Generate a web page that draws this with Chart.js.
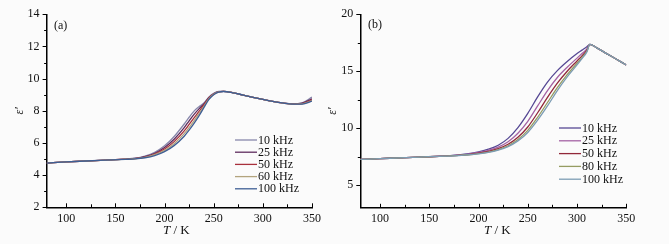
<!DOCTYPE html>
<html>
<head>
<meta charset="utf-8">
<script src="https://cdn.jsdelivr.net/npm/chart.js@4/dist/chart.umd.min.js"></script>
<style>
  html, body { margin: 0; padding: 0; background: #fbfbfb; }
  #wrap { position: relative; width: 669px; height: 244px; overflow: hidden; }
  #chartA { position: absolute; left: 0; top: 0; }
  #chartB { position: absolute; left: 325px; top: 0; }
</style>
</head>
<body>
<div id="wrap">
  <canvas id="chartA" width="330" height="244"></canvas>
  <canvas id="chartB" width="344" height="244"></canvas>
</div>
<script>
// ---- panel (a) ----
var tempA = [80, 100, 120, 140, 160, 170, 180, 190, 200, 210, 220, 225, 230, 235, 240, 245, 250, 255, 260, 270, 280, 290, 300, 310, 320, 330, 340, 350];
var epsA10  = [4.75, 4.82, 4.88, 4.93, 5.00, 5.05, 5.18, 5.42, 5.82, 6.42, 7.18, 7.60, 7.98, 8.25, 8.48, 8.85, 9.08, 9.20, 9.21, 9.12, 8.98, 8.84, 8.71, 8.59, 8.49, 8.43, 8.50, 8.85];
var epsA25  = [4.75, 4.82, 4.88, 4.93, 5.00, 5.04, 5.15, 5.36, 5.72, 6.25, 6.95, 7.38, 7.78, 8.12, 8.42, 8.82, 9.06, 9.19, 9.21, 9.12, 8.98, 8.84, 8.71, 8.59, 8.49, 8.43, 8.47, 8.75];
var epsA50  = [4.75, 4.82, 4.88, 4.93, 4.99, 5.03, 5.12, 5.31, 5.62, 6.10, 6.75, 7.15, 7.56, 7.96, 8.36, 8.78, 9.04, 9.18, 9.21, 9.12, 8.98, 8.84, 8.71, 8.59, 8.49, 8.42, 8.45, 8.68];
var epsA60  = [4.75, 4.82, 4.88, 4.93, 4.99, 5.02, 5.10, 5.27, 5.54, 5.97, 6.58, 6.96, 7.38, 7.82, 8.28, 8.74, 9.02, 9.17, 9.21, 9.12, 8.98, 8.84, 8.71, 8.59, 8.49, 8.42, 8.43, 8.63];
var epsA100 = [4.75, 4.82, 4.88, 4.93, 4.98, 5.01, 5.08, 5.22, 5.46, 5.85, 6.42, 6.80, 7.22, 7.68, 8.20, 8.70, 9.00, 9.16, 9.20, 9.12, 8.98, 8.84, 8.71, 8.59, 8.49, 8.42, 8.42, 8.60];
var labelsA = ['10 kHz', '25 kHz', '50 kHz', '60 kHz', '100 kHz'];
var colorsA = ['#8787ab', '#5e2c5e', '#a8303c', '#b3a47e', '#3e5e94'];
var yTicksA = [2, 4, 6, 8, 10, 12, 14];
var yMinorA = [3, 5, 7, 9, 11, 13];

// ---- panel (b) ----
var tempB = [80, 100, 120, 140, 160, 180, 190, 200, 210, 220, 230, 240, 250, 260, 270, 280, 290, 300, 305, 310, 313, 320, 330, 340, 350];
var epsB10  = [7.25, 7.32, 7.39, 7.46, 7.53, 7.65, 7.75, 7.92, 8.15, 8.50, 9.10, 10.05, 11.30, 12.75, 14.05, 15.05, 15.85, 16.55, 16.85, 17.15, 17.35, 17.05, 16.55, 16.05, 15.55];
var epsB25  = [7.25, 7.32, 7.39, 7.46, 7.53, 7.63, 7.72, 7.86, 8.05, 8.33, 8.80, 9.55, 10.60, 11.95, 13.30, 14.45, 15.35, 16.15, 16.55, 16.95, 17.35, 17.05, 16.55, 16.05, 15.55];
var epsB50  = [7.25, 7.32, 7.39, 7.46, 7.52, 7.61, 7.68, 7.80, 7.96, 8.20, 8.58, 9.20, 10.10, 11.35, 12.70, 13.95, 15.00, 15.90, 16.35, 16.85, 17.35, 17.05, 16.55, 16.05, 15.55];
var epsB80  = [7.25, 7.32, 7.39, 7.46, 7.52, 7.60, 7.66, 7.76, 7.90, 8.12, 8.45, 9.00, 9.80, 10.95, 12.25, 13.55, 14.70, 15.70, 16.20, 16.75, 17.35, 17.05, 16.55, 16.05, 15.55];
var epsB100 = [7.25, 7.32, 7.39, 7.46, 7.52, 7.59, 7.65, 7.74, 7.87, 8.07, 8.38, 8.88, 9.62, 10.70, 11.95, 13.30, 14.50, 15.55, 16.10, 16.70, 17.35, 17.05, 16.55, 16.05, 15.55];
var labelsB = ['10 kHz', '25 kHz', '50 kHz', '80 kHz', '100 kHz'];
var colorsB = ['#564894', '#a462a4', '#92283a', '#959c62', '#7c9cb4'];
var yTicksB = [5, 10, 15, 20];
var yMinorB = [7.5, 12.5, 17.5];

var xTicks = [100, 150, 200, 250, 300, 350];
var xMinor = [125, 175, 225, 275, 325];

var serif = '"Liberation Serif", "DejaVu Serif", serif';

function pts(xs, ys) {
    return xs.map(function (x, i) { return { x: x, y: ys[i] }; });
}

// tick marks, legend, axis titles and panel letter
var decorPlugin = {
    id: 'decor',
    afterDraw: function (chart) {
        var o = chart.options.plugins.decor;
        var c = chart.ctx, a = chart.chartArea;
        var xs = chart.scales.x, ys = chart.scales.y;
        c.save();
        c.strokeStyle = '#000';
        c.lineWidth = 1;
        // y ticks outward
        o.yMajor.forEach(function (v) {
            var y = Math.round(ys.getPixelForValue(v)) + 0.5;
            c.beginPath(); c.moveTo(a.left - 4, y); c.lineTo(a.left, y); c.stroke();
        });
        o.yMinor.forEach(function (v) {
            var y = Math.round(ys.getPixelForValue(v)) + 0.5;
            c.beginPath(); c.moveTo(a.left - 2.5, y); c.lineTo(a.left, y); c.stroke();
        });
        // x ticks inward
        xTicks.forEach(function (v) {
            var x = Math.round(xs.getPixelForValue(v)) + 0.5;
            c.beginPath(); c.moveTo(x, a.bottom); c.lineTo(x, a.bottom - 4); c.stroke();
        });
        xMinor.forEach(function (v) {
            var x = Math.round(xs.getPixelForValue(v)) + 0.5;
            c.beginPath(); c.moveTo(x, a.bottom); c.lineTo(x, a.bottom - 3); c.stroke();
        });

        // legend
        c.font = '12px ' + serif;
        c.textBaseline = 'middle';
        c.textAlign = 'left';
        o.labels.forEach(function (lab, i) {
            var y = o.legY + i * o.legStep;
            c.strokeStyle = o.colors[i];
            c.lineWidth = 1.3;
            c.beginPath(); c.moveTo(o.legX, y); c.lineTo(o.legX + 22, y); c.stroke();
            c.fillStyle = '#111';
            c.fillText(lab, o.legX + 23, y + 0.5);
        });

        // panel letter
        c.fillStyle = '#111';
        c.fillText(o.letter, o.letterX, o.letterY);

        // x title: T / K
        var cx = (a.left + a.right) / 2 + o.xTitleShift;
        c.font = 'italic 13px ' + serif;
        var wT = c.measureText('T').width;
        c.font = '13px ' + serif;
        var wR = c.measureText(' / K').width;
        var x0 = cx - (wT + wR) / 2;
        c.font = 'italic 13px ' + serif;
        c.fillText('T', x0, 231);
        c.font = '13px ' + serif;
        c.fillText(' / K', x0 + wT, 231);

        // y title: ε'
        c.translate(o.yTitleX, (a.top + a.bottom) / 2);
        c.rotate(-Math.PI / 2);
        c.textAlign = 'center';
        c.font = 'italic 12px ' + serif;
        c.fillText('\u03b5\u2032', 0, 0);
        c.restore();
    }
};

function makeChart(id, temps, series, labels, colors, yMin, yMax, yMajor, yMinor, yWidth, padRight, xHeight, decor) {
    var datasets = series.map(function (s, i) {
        return {
            label: labels[i],
            data: pts(temps, s),
            borderColor: colors[i],
            borderWidth: 1.3,
            pointRadius: 0,
            fill: false,
            cubicInterpolationMode: 'monotone',
            order: series.length - i
        };
    });
    decor.labels = labels;
    decor.colors = colors;
    decor.yMajor = yMajor;
    decor.yMinor = yMinor;
    return new Chart(document.getElementById(id).getContext('2d'), {
        type: 'line',
        data: { datasets: datasets },
        options: {
            responsive: false,
            animation: false,
            layout: { padding: { left: 0, right: padRight, top: 14.3, bottom: 0 } },
            scales: {
                x: {
                    type: 'linear',
                    min: 80,
                    max: 350,
                    afterBuildTicks: function (s) { s.ticks = xTicks.map(function (v) { return { value: v }; }); },
                    afterFit: function (s) { s.height = xHeight; },
                    grid: { display: false, drawTicks: false },
                    border: { display: true, color: '#000', width: 1.5 },
                    ticks: { color: '#111', padding: 4, maxRotation: 0, font: { family: serif, size: 12 } }
                },
                y: {
                    type: 'linear',
                    min: yMin,
                    max: yMax,
                    afterBuildTicks: function (s) { s.ticks = yMajor.map(function (v) { return { value: v }; }); },
                    afterFit: function (s) { s.width = yWidth; },
                    grid: { display: false, drawTicks: false },
                    border: { display: true, color: '#000', width: 1.5 },
                    ticks: { color: '#111', padding: 7, font: { family: serif, size: 12 } }
                }
            },
            plugins: {
                legend: { display: false },
                tooltip: { enabled: false },
                decor: decor
            }
        },
        plugins: [decorPlugin]
    });
}

makeChart('chartA', tempA, [epsA10, epsA25, epsA50, epsA60, epsA100], labelsA, colorsA,
    2, 14, yTicksA, yMinorA, 46.6, 18, 36.7,
    { legX: 235, legY: 140, legStep: 12.2, letter: '(a)', letterX: 54, letterY: 26, xTitleShift: -3, yTitleX: 20 });

makeChart('chartB', tempB, [epsB10, epsB25, epsB50, epsB80, epsB100], labelsB, colorsB,
    3, 20, yTicksB, yMinorB, 35.3, 42.7, 36.2,
    { legX: 234, legY: 128, legStep: 12.8, letter: '(b)', letterX: 43, letterY: 25, xTitleShift: 4, yTitleX: 8 });
</script>
</body>
</html>
